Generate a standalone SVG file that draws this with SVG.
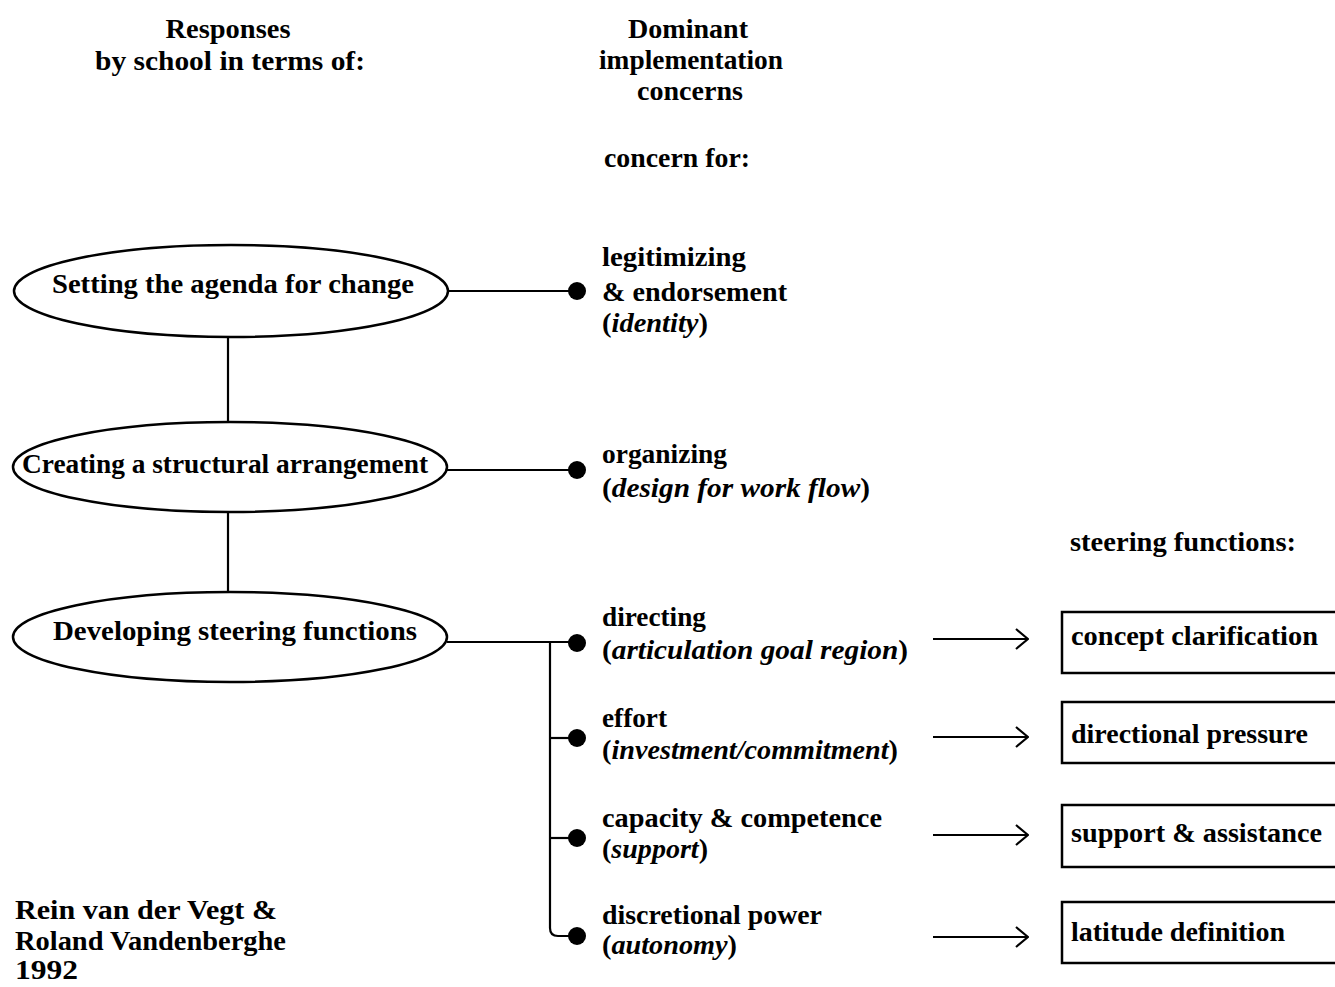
<svg xmlns="http://www.w3.org/2000/svg" width="1335" height="987" viewBox="0 0 1335 987">
<style>
text{font-family:"Liberation Serif","Times New Roman",serif;font-weight:bold;font-size:28px;fill:#000}
.c{text-anchor:middle}
.i{font-style:italic}
.ell{fill:#fff;stroke:#000;stroke-width:2.5}
.box{fill:#fff;stroke:#000;stroke-width:2.5}
.ln{fill:none;stroke:#000;stroke-width:2.2}
.dot{fill:#000}
</style>
<defs>
<marker id="arr" viewBox="0 0 14 22" refX="13" refY="11" markerWidth="14" markerHeight="22" markerUnits="userSpaceOnUse" orient="auto">
<path d="M1,1 L13,11 L1,21" fill="none" stroke="#000" stroke-width="2.2"/>
</marker>
</defs>
<rect width="1335" height="987" fill="#fff"/>

<g id="headers">
<text class="c" x="228" y="38" textLength="125" lengthAdjust="spacingAndGlyphs">Responses</text>
<text class="c" x="230" y="70" textLength="270" lengthAdjust="spacingAndGlyphs">by school in terms of:</text>
<text class="c" x="688" y="38" textLength="120" lengthAdjust="spacingAndGlyphs">Dominant</text>
<text class="c" x="691" y="69" textLength="184" lengthAdjust="spacingAndGlyphs">implementation</text>
<text class="c" x="690" y="100" textLength="106" lengthAdjust="spacingAndGlyphs">concerns</text>
<text x="604" y="167" textLength="146" lengthAdjust="spacingAndGlyphs">concern for:</text>
<text x="1070" y="551" textLength="226" lengthAdjust="spacingAndGlyphs">steering functions:</text>
</g>

<g id="connectors">
<line class="ln" x1="228" y1="337" x2="228" y2="421"/>
<line class="ln" x1="228" y1="512" x2="228" y2="592"/>
<line class="ln" x1="448" y1="291" x2="575" y2="291"/>
<line class="ln" x1="447" y1="470" x2="575" y2="470"/>
<line class="ln" x1="447" y1="642" x2="575" y2="642"/>
<path class="ln" d="M550,642 V928 Q550,936 558,936 H575"/>
<line class="ln" x1="550" y1="738" x2="575" y2="738"/>
<line class="ln" x1="550" y1="838" x2="575" y2="838"/>
<circle class="dot" cx="577" cy="291" r="9"/>
<circle class="dot" cx="577" cy="470" r="9"/>
<circle class="dot" cx="577" cy="643" r="9"/>
<circle class="dot" cx="577" cy="738" r="9"/>
<circle class="dot" cx="577" cy="838" r="9"/>
<circle class="dot" cx="577" cy="936" r="9"/>
<line class="ln" x1="933" y1="639" x2="1028" y2="639" marker-end="url(#arr)"/>
<line class="ln" x1="933" y1="737" x2="1028" y2="737" marker-end="url(#arr)"/>
<line class="ln" x1="933" y1="835" x2="1028" y2="835" marker-end="url(#arr)"/>
<line class="ln" x1="933" y1="937" x2="1028" y2="937" marker-end="url(#arr)"/>
</g>

<g id="node-agenda">
<ellipse class="ell" cx="231" cy="291" rx="217" ry="46"/>
<text x="52" y="293" textLength="362" lengthAdjust="spacingAndGlyphs">Setting the agenda for change</text>
</g>
<g id="node-structural">
<ellipse class="ell" cx="230" cy="467" rx="217" ry="45"/>
<text x="22" y="473" textLength="406" lengthAdjust="spacingAndGlyphs">Creating a structural arrangement</text>
</g>
<g id="node-steering">
<ellipse class="ell" cx="230" cy="637" rx="217" ry="45"/>
<text x="53" y="640" textLength="364" lengthAdjust="spacingAndGlyphs">Developing steering functions</text>
</g>

<g id="concern-legitimizing">
<text x="602" y="266" textLength="144" lengthAdjust="spacingAndGlyphs">legitimizing</text>
<text x="602" y="301" textLength="185" lengthAdjust="spacingAndGlyphs">&amp; endorsement</text>
<text x="602" y="332" textLength="106" lengthAdjust="spacingAndGlyphs">(<tspan class="i">identity</tspan>)</text>
</g>
<g id="concern-organizing">
<text x="602" y="463" textLength="125" lengthAdjust="spacingAndGlyphs">organizing</text>
<text x="602" y="497" textLength="268" lengthAdjust="spacingAndGlyphs">(<tspan class="i">design for work flow</tspan>)</text>
</g>
<g id="concern-directing">
<text x="602" y="626" textLength="104" lengthAdjust="spacingAndGlyphs">directing</text>
<text x="602" y="659" textLength="306" lengthAdjust="spacingAndGlyphs">(<tspan class="i">articulation goal region</tspan>)</text>
</g>
<g id="concern-effort">
<text x="602" y="727" textLength="65" lengthAdjust="spacingAndGlyphs">effort</text>
<text x="602" y="759" textLength="296" lengthAdjust="spacingAndGlyphs">(<tspan class="i">investment/commitment</tspan>)</text>
</g>
<g id="concern-capacity">
<text x="602" y="827" textLength="280" lengthAdjust="spacingAndGlyphs">capacity &amp; competence</text>
<text x="602" y="858" textLength="106" lengthAdjust="spacingAndGlyphs">(<tspan class="i">support</tspan>)</text>
</g>
<g id="concern-discretional">
<text x="602" y="924" textLength="220" lengthAdjust="spacingAndGlyphs">discretional power</text>
<text x="602" y="954" textLength="135" lengthAdjust="spacingAndGlyphs">(<tspan class="i">autonomy</tspan>)</text>
</g>

<g id="box-concept">
<rect class="box" x="1062" y="612" width="290" height="61"/>
<text x="1071" y="645" textLength="247" lengthAdjust="spacingAndGlyphs">concept clarification</text>
</g>
<g id="box-directional">
<rect class="box" x="1062" y="702" width="290" height="61"/>
<text x="1071" y="743" textLength="237" lengthAdjust="spacingAndGlyphs">directional pressure</text>
</g>
<g id="box-support">
<rect class="box" x="1062" y="805" width="290" height="62"/>
<text x="1071" y="842" textLength="251" lengthAdjust="spacingAndGlyphs">support &amp; assistance</text>
</g>
<g id="box-latitude">
<rect class="box" x="1062" y="902" width="290" height="61"/>
<text x="1071" y="941" textLength="214" lengthAdjust="spacingAndGlyphs">latitude definition</text>
</g>

<g id="credit">
<text x="15" y="919" textLength="262" lengthAdjust="spacingAndGlyphs">Rein van der Vegt &amp;</text>
<text x="15" y="950" textLength="271" lengthAdjust="spacingAndGlyphs">Roland Vandenberghe</text>
<text x="15" y="979" textLength="63" lengthAdjust="spacingAndGlyphs">1992</text>
</g>
</svg>
